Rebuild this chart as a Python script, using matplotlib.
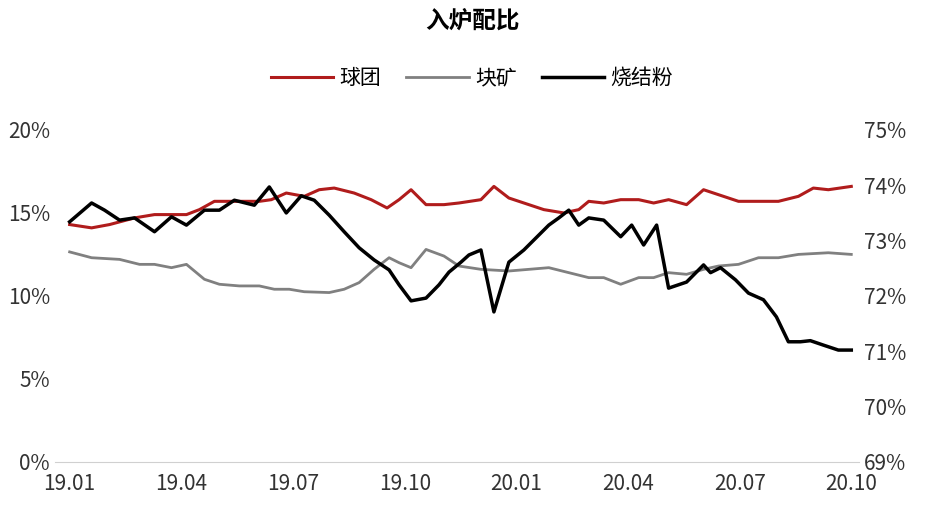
import matplotlib
matplotlib.use("Agg")
import matplotlib.pyplot as plt
import numpy as np

plt.rcParams['font.family'] = ['Noto Sans CJK SC', 'DejaVu Sans']

tick_labels = ['19.01','19.04','19.07','19.10','20.01','20.04','20.07','20.10']

# x positions as pixel-estimates converted to months since 19.01
def m(px): return [(p-70)/37.3 for p in px]

black_px = [70,92,105,120,135,155,172,187,205,220,235,255,270,287,302,315,330,345,360,375,390,400,412,427,440,450,462,470,482,495,510,525,535,550,560,570,580,590,605,622,633,645,658,670,688,705,712,722,737,750,765,778,790,802,812,825,840,853]
black_val = [73.34,73.68,73.55,73.37,73.41,73.16,73.43,73.28,73.55,73.55,73.73,73.64,73.97,73.50,73.81,73.73,73.46,73.16,72.87,72.65,72.47,72.20,71.91,71.96,72.20,72.43,72.61,72.74,72.83,71.71,72.61,72.83,73.01,73.28,73.41,73.55,73.28,73.41,73.37,73.07,73.28,72.92,73.28,72.14,72.25,72.56,72.42,72.51,72.29,72.05,71.93,71.62,71.17,71.17,71.19,71.11,71.02,71.02]

red_px = [70,92,110,135,155,187,200,215,240,260,272,287,305,320,335,355,372,388,400,412,427,445,460,482,495,510,525,545,565,580,590,605,622,640,655,670,688,705,720,740,760,780,800,815,830,853]
red_val = [14.3,14.1,14.3,14.7,14.9,14.9,15.2,15.7,15.7,15.7,15.8,16.2,16.0,16.4,16.5,16.2,15.8,15.3,15.8,16.4,15.5,15.5,15.6,15.8,16.6,15.9,15.6,15.2,15.0,15.2,15.7,15.6,15.8,15.8,15.6,15.8,15.5,16.4,16.1,15.7,15.7,15.7,16.0,16.5,16.4,16.6]

gray_px = [70,92,120,140,155,172,187,205,220,240,260,275,290,305,330,345,360,375,390,400,412,427,445,460,482,510,530,550,570,590,605,622,640,655,670,688,705,720,740,760,780,800,830,853]
gray_val = [12.65,12.3,12.2,11.9,11.9,11.7,11.9,11.0,10.7,10.6,10.6,10.4,10.4,10.25,10.2,10.4,10.8,11.6,12.3,12.0,11.7,12.8,12.4,11.8,11.6,11.5,11.6,11.7,11.4,11.1,11.1,10.7,11.1,11.1,11.4,11.3,11.6,11.8,11.9,12.3,12.3,12.5,12.6,12.5]

fig = plt.figure(figsize=(9.44,5.2), dpi=100)
ax = fig.add_axes([0.058, 0.112, 0.852, 0.638])
ax2 = ax.twinx()

l1, = ax.plot(m(red_px), red_val, color='#b01c1c', lw=2.2, label='球团')
l2, = ax.plot(m(gray_px), gray_val, color='#808080', lw=2.0, label='块矿')
l3, = ax2.plot(m(black_px), black_val, color='black', lw=2.5, label='烧结粉')

ax.set_ylim(0, 20)
ax.set_yticks([0,5,10,15,20])
ax.set_yticklabels(['0%','5%','10%','15%','20%'])
ax2.set_ylim(69, 75)
ax2.set_yticks([69,70,71,72,73,74,75])
ax2.set_yticklabels([f'{v}%' for v in range(69,76)])
ax.set_xlim(-0.4, 21.2)
ax.set_xticks(range(0,22,3))
ax.set_xticklabels(tick_labels)
for a in (ax, ax2):
    for s in a.spines.values():
        s.set_visible(False)
    a.tick_params(length=0, labelsize=15, colors='#333333')
ax.spines['bottom'].set_visible(True)
ax.spines['bottom'].set_color('#d0d0d0')
ax.tick_params(axis='x', pad=8)

fig.text(0.5, 0.96, '入炉配比', ha='center', va='center', fontsize=17, fontweight='bold')
fig.legend(handles=[l1,l2,l3], loc='center', bbox_to_anchor=(0.5, 0.85), ncol=3,
           frameon=False, fontsize=15, handlelength=3, columnspacing=1.2, handletextpad=0.3)

fig.savefig('out.png', dpi=100)
